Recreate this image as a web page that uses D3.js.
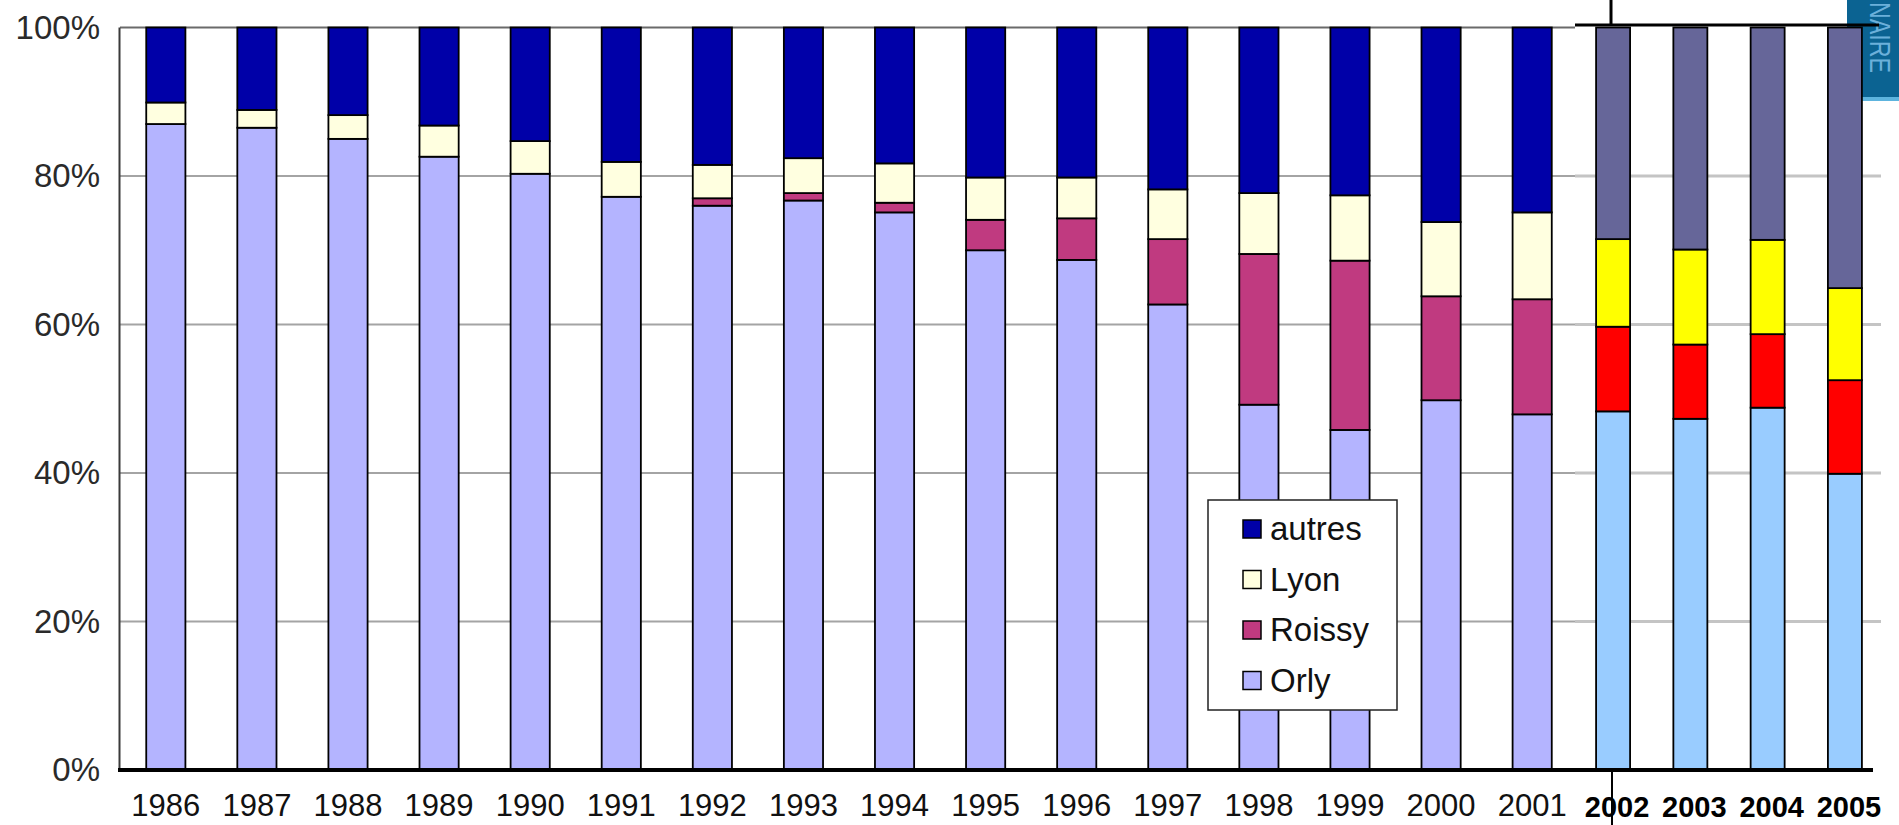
<!DOCTYPE html>
<html>
<head>
<meta charset="utf-8">
<script src="https://cdn.jsdelivr.net/npm/d3@7"></script>
<style>
body { margin: 0; background: #fff; }
svg { display: block; font-family: "Liberation Sans", Arial, sans-serif; }
</style>
</head>
<body>
<script>
// 1986-2001 (first chart)
var years1 = ["1986", "1987", "1988", "1989", "1990", "1991", "1992", "1993",
              "1994", "1995", "1996", "1997", "1998", "1999", "2000", "2001"];
var orly1   = [87.0, 86.5, 85.0, 82.6, 80.3, 77.2, 76.0, 76.7, 75.1, 70.0, 68.7, 62.7, 49.2, 45.8, 49.8, 47.9];
var roissy1 = [0, 0, 0, 0, 0, 0, 1.0, 1.0, 1.3, 4.1, 5.6, 8.8, 20.3, 22.8, 14.0, 15.5];
var lyon1   = [2.9, 2.4, 3.2, 4.2, 4.4, 4.7, 4.5, 4.7, 5.3, 5.7, 5.5, 6.7, 8.2, 8.8, 10.0, 11.7];
var autres1 = [10.1, 11.1, 11.8, 13.2, 15.3, 18.1, 18.5, 17.6, 18.3, 20.2, 20.2, 21.8, 22.3, 22.6, 26.2, 24.9];

// 2002-2005 (pasted second chart)
var years2 = ["2002", "2003", "2004", "2005"];
var orly2   = [48.3, 47.3, 48.8, 39.9];
var roissy2 = [11.4, 10.0, 9.9, 12.6];
var lyon2   = [11.8, 12.8, 12.7, 12.4];
var autres2 = [28.5, 29.9, 28.6, 35.1];

var keys = ["orly", "roissy", "lyon", "autres"];
var legendLabels = ["autres", "Lyon", "Roissy", "Orly"];
var yTicks = [0, 20, 40, 60, 80, 100];

var colors1 = { orly: "#b4b4ff", roissy: "#c03a80", lyon: "#ffffe0", autres: "#0000a8" };
var colors2 = { orly: "#99ccff", roissy: "#ff0000", lyon: "#ffff00", autres: "#666699" };

function rows(years, o, r, l, a) {
	var out = [];
	for (var i = 0; i < years.length; i++) {
		out.push({ year: years[i], orly: o[i], roissy: r[i], lyon: l[i], autres: a[i] });
	}
	return out;
}

var data1 = rows(years1, orly1, roissy1, lyon1, autres1);
var data2 = rows(years2, orly2, roissy2, lyon2, autres2);

var width = 1899, height = 825;

var svg = d3.select("body").append("svg")
	.attr("width", width)
	.attr("height", height);

var y = d3.scaleLinear().domain([0, 100]).range([770, 27.5]);

var x1 = d3.scaleBand().domain(years1).range([118, 1580])
	.paddingInner(0.57).paddingOuter(0.31);
var x2 = d3.scaleBand().domain(years2).range([1576, 1882])
	.paddingInner(0.56).paddingOuter(0.26);

var stack = d3.stack().keys(keys);

// teal tab at the top right (sits behind the chart)
svg.append("rect")
	.attr("x", 1847).attr("y", 0)
	.attr("width", 52).attr("height", 100)
	.attr("fill", "#0b6392");
svg.append("rect")
	.attr("x", 1847).attr("y", 97)
	.attr("width", 52).attr("height", 4)
	.attr("fill", "#5db4de");
svg.append("text")
	.attr("transform", "translate(1870,2) rotate(90) scale(0.8,1)")
	.attr("font-size", 29)
	.attr("fill", "#6bb0da")
	.text("NAIRE");

// gridlines of the left chart
svg.append("g").selectAll("line")
	.data([20, 40, 60, 80])
	.enter().append("line")
	.attr("x1", 120).attr("x2", 1575)
	.attr("y1", function(d) { return y(d); })
	.attr("y2", function(d) { return y(d); })
	.attr("stroke", "#a4a4a4")
	.attr("stroke-width", 2);

svg.append("line")
	.attr("x1", 120).attr("x2", 1575)
	.attr("y1", y(100)).attr("y2", y(100))
	.attr("stroke", "#6a6a6a").attr("stroke-width", 2);

// gridlines of the right chart
svg.append("g").selectAll("line")
	.data([20, 40, 60, 80])
	.enter().append("line")
	.attr("x1", 1575).attr("x2", 1881)
	.attr("y1", function(d) { return y(d); })
	.attr("y2", function(d) { return y(d); })
	.attr("stroke", "#c4c4c4")
	.attr("stroke-width", 3);

function drawBars(data, x, colors) {
	var layers = svg.append("g")
		.selectAll("g")
		.data(stack(data))
		.enter().append("g")
		.attr("fill", function(d) { return colors[d.key]; });

	layers.selectAll("rect")
		.data(function(d) { return d; })
		.enter().append("rect")
		.filter(function(d) { return d[1] - d[0] > 0; })
		.attr("x", function(d) { return x(d.data.year); })
		.attr("width", x.bandwidth())
		.attr("y", function(d) { return y(d[1]); })
		.attr("height", function(d) { return y(d[0]) - y(d[1]); })
		.attr("stroke", "#000")
		.attr("stroke-width", 1.8);
}

drawBars(data1, x1, colors1);
drawBars(data2, x2, colors2);

// y axis
svg.append("line")
	.attr("x1", 119.5).attr("x2", 119.5)
	.attr("y1", y(100)).attr("y2", y(0))
	.attr("stroke", "#3a3a3a").attr("stroke-width", 2);

var yAxis = svg.append("g")
	.attr("transform", "translate(100,0)")
	.call(d3.axisLeft(y).tickValues(yTicks).tickSize(0).tickPadding(0)
		.tickFormat(function(d) { return d + "%"; }));
yAxis.select(".domain").remove();
yAxis.selectAll("text")
	.attr("font-family", "Liberation Sans, Arial, sans-serif")
	.attr("font-size", 33)
	.attr("fill", "#2a2a2a");

// x axes
svg.append("line")
	.attr("x1", 118).attr("x2", 1577)
	.attr("y1", 770).attr("y2", 770)
	.attr("stroke", "#000").attr("stroke-width", 4);
svg.append("line")
	.attr("x1", 1577).attr("x2", 1873)
	.attr("y1", 770).attr("y2", 770)
	.attr("stroke", "#000").attr("stroke-width", 4);

var xAxis1 = svg.append("g")
	.attr("transform", "translate(0,794)")
	.call(d3.axisBottom(x1).tickSize(0).tickPadding(0));
xAxis1.select(".domain").remove();
xAxis1.selectAll("text")
	.attr("font-family", "Liberation Sans, Arial, sans-serif")
	.attr("font-size", 31)
	.attr("fill", "#111");

var xAxis2 = svg.append("g")
	.attr("transform", "translate(4,796)")
	.call(d3.axisBottom(x2).tickSize(0).tickPadding(0));
xAxis2.select(".domain").remove();
xAxis2.selectAll("text")
	.attr("font-family", "Liberation Sans, Arial, sans-serif")
	.attr("font-size", 29)
	.attr("font-weight", "bold")
	.attr("fill", "#000");

// black frame bits of the pasted chart
svg.append("line")
	.attr("x1", 1575).attr("x2", 1879)
	.attr("y1", 25).attr("y2", 25)
	.attr("stroke", "#000").attr("stroke-width", 3);
svg.append("line")
	.attr("x1", 1611).attr("x2", 1611)
	.attr("y1", 0).attr("y2", 25)
	.attr("stroke", "#000").attr("stroke-width", 3);
svg.append("line")
	.attr("x1", 1612).attr("x2", 1612)
	.attr("y1", 770).attr("y2", 825)
	.attr("stroke", "#000").attr("stroke-width", 2);

// legend
var legend = svg.append("g").attr("transform", "translate(1208,500)");
legend.append("rect")
	.attr("width", 189).attr("height", 210)
	.attr("fill", "#fff")
	.attr("stroke", "#222").attr("stroke-width", 1.5);

var item = legend.selectAll("g.item")
	.data(legendLabels)
	.enter().append("g")
	.attr("class", "item")
	.attr("transform", function(d, i) { return "translate(0," + (29 + i * 50.5) + ")"; });

item.append("rect")
	.attr("x", 35).attr("y", -9)
	.attr("width", 18).attr("height", 18)
	.attr("fill", function(d, i) { return colors1[keys[3 - i]]; })
	.attr("stroke", "#000").attr("stroke-width", 1.5);

item.append("text")
	.attr("x", 62).attr("y", 11)
	.attr("font-size", 33)
	.attr("fill", "#111")
	.text(function(d) { return d; });
</script>
</body>
</html>
